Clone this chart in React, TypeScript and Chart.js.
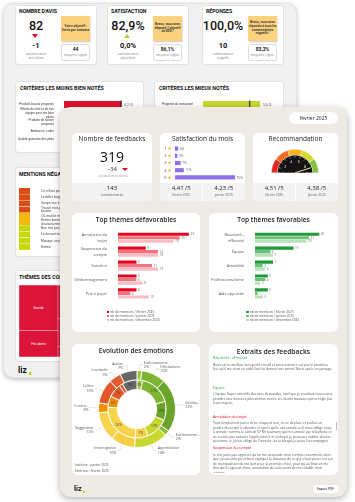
import React, { useEffect, useRef } from "react";
import { Chart, registerables } from "chart.js";
Chart.register(...registerables);

const OPEN = "'Open Sans', 'Noto Sans', sans-serif";
const ROBOTO = "Roboto, 'Liberation Sans', sans-serif";
const ARIAL = "'Liberation Sans', Arial, sans-serif";
Chart.defaults.font.family = OPEN;

// ---------------- data ----------------
const starLabels = ["1", "2", "3", "4", "5"];
const starShares = [4, 3, 7, 11, 75];

const recoBandLabels = ["0-2", "2-4", "4-6", "6-8", "8-10"];
const recoBands = [2, 2, 2, 2, 2];
const recoTicks = [0, 2, 4, 6, 8, 10];
const recoScore = 4.51;

const periods = ["février 2025", "janvier 2025"];
const satisfactionScores = ["4,41 /5", "4,23 /5"];
const recoScores = ["4,51 /5", "4,38 /5"];

const monthLegend = [
  "nb de mentions / février 2025",
  "nb de mentions / janvier 2025",
  "nb de mentions / décembre 2024",
];
const negThemes = [["Annulation du", "trajet"], ["Suspension du", "compte"], "Sanction", "Dédommagement", "Prix à payer"];
const negFeb = [23, 9, 6, 6, 6];
const negJan = [20, 13, 11, 6, 4];
const negDec = [18, 13, 13, 8, 10];
const posThemes = [["Réactivité -", "efficacité"], "Équipe", "Amabilité", "Professionnalisme", "Aide apportée"];
const posFeb = [25, 15, 7, 5, 5];
const posJan = [21, 6, 3, 4, 1];
const posDec = [20, 7, 4, 2, 3];

const emotionLabels = ["Enthousiasme", "Félicitations", "Gratitu...", "Enchanteme...", "Appréciation", "Interrogation", "Suggestion", "Contra...", "Colère", "Lassitude", "Autres"];
const emotionsFeb = [2, 10, 22, 2, 14, 10, 12, 4, 10, 5, 7];
const emotionsJan = [3, 17, 10, 0, 12, 7, 24, 6, 7, 2, 8];

const worstCriteria = ["Produits locaux proposés", ["Efforts du chef et de son", "équipe pour me faire", "plaisir"], ["Produits de saison", "proposés"], "Ambiance, cadre", "Qualité gustative des plats"];
const worstScores = [4.2, 4.3, 4.4, 4.4, 4.5];
const worstRegion = [4.2, 4.4, 4.3, 4.5, 4.4];
const bestCriteria = ["Propreté du restaurant", "Accueil du personnel", "Rapidité du service", "Qualité des produits", "Rapport qualité/prix"];
const bestScores = [5.0, 4.9, 4.8, 4.8, 4.7];
const bestRegion = [4.1, 4.3, 4.2, 4.4, 4.2];

const negMentions = [
  "Ce n'était pas une bonne expérience",
  "Lentilles baignant dans l'huile",
  "Soupe aux tripes trop salée",
  ["Trouvé trois petits morceaux de", "bouton"],
  "Où était le monarque ?",
  ["Entrée bonne mais manque", "d'assaisonnement"],
  "Bon mai pas assez chaud",
  "Le dessert trop sec",
  "Manque un peu de sel",
  "Entrée",
];
const mentionWeights = [1, 1, 1, 1, 1, 1, 1, 1, 1, 1];
const mentionTone = [3, 3, 3, 3, 2, 2, 1, 1, 1, 1];

const themeColumns = ["Plats", "Accompagnements"];
const themeBottom = [37, 14];
const themeMiddle = [0, 39];
const themeTop = [63, 47];
const themeBottomNames = ["Féculents", "Desserts"];
const themeMiddleNames = ["", "Service"];
const themeTopNames = ["Viande", "Garnitures"];

// ---------------- helpers ----------------
function ChartBox({ x, y, w, h, make }: any) {
  const ref = useRef<HTMLCanvasElement | null>(null);
  useEffect(() => {
    const chart = new Chart(ref.current as HTMLCanvasElement, make());
    return () => chart.destroy();
  }, []);
  return (
    <canvas
      ref={ref}
      width={w}
      height={h}
      style={{ position: "absolute", left: x, top: y, width: w, height: h }}
    />
  );
}

function Txt({ x, y, w = 120, align = "center", size, weight = 400, color = "#222", family = OPEN, lh, children, style }: any) {
  const left = align === "center" ? x - w / 2 : align === "right" ? x - w : x;
  const lineH = lh ?? size * 1.25;
  return (
    <div
      style={{
        position: "absolute",
        left,
        top: y - lineH / 2,
        width: w,
        textAlign: align,
        fontSize: size,
        fontWeight: weight,
        color,
        fontFamily: family,
        lineHeight: lineH + "px",
        whiteSpace: "pre",
        ...style,
      }}
    >
      {children}
    </div>
  );
}

const box = (x: number, y: number, w: number, h: number, extra: any = {}) => ({
  position: "absolute" as const,
  left: x,
  top: y,
  width: w,
  height: h,
  boxSizing: "border-box" as const,
  ...extra,
});

function Tri({ x, y, up, color, s = 3.5 }: any) {
  return (
    <div
      style={{
        position: "absolute",
        left: x - s,
        top: y - s * 0.6,
        width: 0,
        height: 0,
        borderLeft: `${s}px solid transparent`,
        borderRight: `${s}px solid transparent`,
        ...(up ? { borderBottom: `${s * 1.2}px solid ${color}` } : { borderTop: `${s * 1.2}px solid ${color}` }),
      }}
    />
  );
}

const valueLabels = (opts: any) => ({
  id: "valueLabels",
  afterDatasetsDraw(chart: any) {
    const ctx = chart.ctx;
    ctx.save();
    ctx.font = `${opts.size}px ${opts.family || OPEN}`;
    ctx.fillStyle = opts.color;
    ctx.textBaseline = "middle";
    ctx.textAlign = "left";
    chart.data.datasets.forEach((ds: any, di: number) => {
      const meta = chart.getDatasetMeta(di);
      meta.data.forEach((el: any, i: number) => {
        ctx.fillText(opts.fmt(ds.data[i]), el.x + opts.dx, el.y + 0.3);
      });
    });
    ctx.restore();
  },
});

// ---------------- chart factories ----------------
function criteriaChart(labels: any, scores: number[], region: number[], color: string, padRight: number) {
  return () => ({
    type: "bar",
    data: {
      labels,
      datasets: [{ data: scores, backgroundColor: color, categoryPercentage: 1, barPercentage: 0.78 }],
    },
    options: {
      indexAxis: "y",
      responsive: false,
      animation: false,
      events: [],
      layout: { padding: { right: padRight, left: 0, top: 0, bottom: 0 } },
      plugins: { legend: { display: false }, tooltip: { enabled: false } },
      scales: {
        x: { display: false, min: 0, max: 5 },
        y: {
          grid: { display: false },
          border: { display: false },
          ticks: { color: "#333", font: { size: 3.1, family: ARIAL, lineHeight: 1.35 }, padding: 2, autoSkip: false },
          afterFit: (s: any) => {
            s.width = 49;
          },
        },
      },
    },
    plugins: [
      {
        id: "regionMarker",
        afterDatasetsDraw(chart: any) {
          const ctx = chart.ctx;
          const meta = chart.getDatasetMeta(0);
          const xs = chart.scales.x;
          ctx.save();
          ctx.strokeStyle = "#111";
          ctx.lineWidth = 1;
          meta.data.forEach((el: any, i: number) => {
            const px = xs.getPixelForValue(region[i]);
            ctx.beginPath();
            ctx.moveTo(px, el.y - el.height / 2 - 0.5);
            ctx.lineTo(px, el.y + el.height / 2 + 0.5);
            ctx.stroke();
          });
          ctx.restore();
        },
      },
      valueLabels({ size: 3.4, color: "#555", dx: 3, family: ARIAL, fmt: (v: number) => v.toFixed(1).replace(".", ",") + " /5" }),
    ],
  });
}

function themeChart(labels: any, series: number[][], colors: string[], max: number, padRight: number) {
  return () => ({
    type: "bar",
    data: {
      labels,
      datasets: series.map((d, i) => ({
        label: monthLegend[i],
        data: d,
        backgroundColor: colors[i],
        categoryPercentage: 0.76,
        barPercentage: 0.9,
      })),
    },
    options: {
      indexAxis: "y",
      responsive: false,
      animation: false,
      events: [],
      layout: { padding: { right: padRight, left: 0, top: 0, bottom: 0 } },
      plugins: { legend: { display: false }, tooltip: { enabled: false } },
      scales: {
        x: { display: false, min: 0, max },
        y: {
          grid: { display: false },
          border: { display: false },
          ticks: { color: "#555", font: { size: 3.85, family: OPEN, lineHeight: 1.45 }, padding: 3, autoSkip: false },
          afterFit: (s: any) => {
            s.width = 46;
          },
        },
      },
    },
    plugins: [valueLabels({ size: 3.1, color: "#666", dx: 1.5, fmt: (v: number) => String(v) })],
  });
}

const starChart = () => ({
  type: "bar",
  data: {
    labels: starLabels,
    datasets: [{ data: starShares, backgroundColor: "#8e70ec", categoryPercentage: 1, barPercentage: 0.58 }],
  },
  options: {
    indexAxis: "y",
    responsive: false,
    animation: false,
    events: [],
    layout: { padding: { left: 15, right: 10, top: 0, bottom: 0 } },
    plugins: { legend: { display: false }, tooltip: { enabled: false } },
    scales: { x: { display: false, min: 0, max: 75 }, y: { display: false } },
  },
  plugins: [
    {
      id: "stars",
      afterDatasetsDraw(chart: any) {
        const ctx = chart.ctx;
        const meta = chart.getDatasetMeta(0);
        ctx.save();
        ctx.textBaseline = "middle";
        meta.data.forEach((el: any, i: number) => {
          ctx.font = `4px ${OPEN}`;
          ctx.fillStyle = "#444";
          ctx.textAlign = "right";
          ctx.fillText(chart.data.labels[i], chart.chartArea.left - 8.5, el.y + 0.3);
          ctx.font = `4.6px 'DejaVu Sans'`;
          ctx.fillStyle = "#f4b400";
          ctx.textAlign = "left";
          ctx.fillText("★", chart.chartArea.left - 7.5, el.y + 0.2);
        });
        ctx.restore();
      },
    },
    valueLabels({ size: 3.2, color: "#555", dx: 1.5, fmt: (v: number) => v + "%" }),
  ],
});

const gaugeChart = () => ({
  type: "doughnut",
  data: {
    labels: recoBandLabels,
    datasets: [
      {
        data: recoBands,
        backgroundColor: ["#e2261d", "#f06a22", "#f9b41c", "#d5d82b", "#86c23f"],
        borderColor: "#fff",
        borderWidth: 0.4,
        weight: 1,
      },
      { data: [10], backgroundColor: ["#141414"], borderWidth: 0, weight: 3 },
    ],
  },
  options: {
    responsive: false,
    animation: false,
    events: [],
    rotation: -90,
    circumference: 180,
    cutout: 0,
    layout: { padding: { left: 4, right: 4, top: 4, bottom: 0 } },
    plugins: { legend: { display: false }, tooltip: { enabled: false } },
  },
  plugins: [
    {
      id: "dial",
      afterDatasetsDraw(chart: any) {
        const ctx = chart.ctx;
        const el: any = chart.getDatasetMeta(1).data[0];
        const cx = el.x, cy = el.y, r = el.outerRadius;
        ctx.save();
        ctx.strokeStyle = "#fff";
        ctx.lineWidth = 0.5;
        for (let v = 0; v <= 10; v++) {
          const a = Math.PI + (v / 10) * Math.PI;
          ctx.beginPath();
          ctx.moveTo(cx + Math.cos(a) * (r - 2.5), cy + Math.sin(a) * (r - 2.5));
          ctx.lineTo(cx + Math.cos(a) * (r - 0.8), cy + Math.sin(a) * (r - 0.8));
          ctx.stroke();
        }
        ctx.fillStyle = "#fff";
        ctx.font = `3.4px ${OPEN}`;
        ctx.textAlign = "center";
        ctx.textBaseline = "middle";
        recoTicks.forEach((v) => {
          const a = Math.PI + (v / 10) * Math.PI;
          ctx.fillText(String(v), cx + Math.cos(a) * (r - 5.5), cy + Math.sin(a) * (r - 5.5) + 1);
        });
        const na = Math.PI + (recoScore / 5) * Math.PI;
        ctx.strokeStyle = "#f1e39a";
        ctx.lineWidth = 1;
        ctx.beginPath();
        ctx.moveTo(cx, cy);
        ctx.lineTo(cx + Math.cos(na) * (r - 2), cy + Math.sin(na) * (r - 2));
        ctx.stroke();
        ctx.restore();
      },
    },
  ],
});

const emotionColors = ["#93c83e", "#7db530", "#6aa428", "#86bd36", "#c9d731", "#f4cf45", "#f6d54c", "#f29100", "#e2582c", "#df5b33", "#676767"];

const emotionChart = () => ({
  type: "doughnut",
  data: {
    labels: emotionLabels,
    datasets: [
      { label: "février 2025", data: emotionsFeb, backgroundColor: emotionColors, borderColor: "#fff", borderWidth: 0.9 },
      { label: "janvier 2025", data: emotionsJan, backgroundColor: emotionColors, borderColor: "#fff", borderWidth: 0.9 },
    ],
  },
  options: {
    responsive: false,
    animation: false,
    events: [],
    cutout: "51%",
    layout: { padding: { left: 26, right: 24, top: 12, bottom: 14 } },
    plugins: { legend: { display: false }, tooltip: { enabled: false } },
  },
  plugins: [
    {
      id: "callouts",
      afterDatasetsDraw(chart: any) {
        const ctx = chart.ctx;
        ctx.save();
        const outer = chart.getDatasetMeta(0);
        outer.data.forEach((el: any, i: number) => {
          const v = chart.data.datasets[0].data[i];
          if (!v) return;
          const a = (el.startAngle + el.endAngle) / 2;
          const c = Math.cos(a), s = Math.sin(a);
          const r = el.outerRadius;
          const x1 = el.x + c * (r + 0.5), y1 = el.y + s * (r + 0.5);
          const x2 = el.x + c * (r + 6), y2 = el.y + s * (r + 6);
          const right = c >= 0;
          const x3 = x2 + (right ? 3 : -3);
          ctx.strokeStyle = "#bdbdbd";
          ctx.lineWidth = 0.4;
          ctx.beginPath();
          ctx.moveTo(x1, y1);
          ctx.lineTo(x2, y2);
          ctx.lineTo(x3, y2);
          ctx.stroke();
          ctx.fillStyle = "#555";
          ctx.font = `3.6px ${OPEN}`;
          ctx.textAlign = right ? "left" : "right";
          ctx.textBaseline = "middle";
          const tx = x3 + (right ? 1 : -1);
          ctx.fillText(chart.data.labels[i], tx, y2 - 2);
          ctx.fillText(v + "%", tx, y2 + 2.3);
        });
        const inner = chart.getDatasetMeta(1);
        ctx.fillStyle = "#3a3a3a";
        ctx.font = `3.2px ${OPEN}`;
        ctx.textAlign = "center";
        ctx.textBaseline = "middle";
        inner.data.forEach((el: any, i: number) => {
          const v = chart.data.datasets[1].data[i];
          if (v < 3) return;
          const a = (el.startAngle + el.endAngle) / 2;
          const rm = (el.innerRadius + el.outerRadius) / 2;
          ctx.fillText(v + "%", el.x + Math.cos(a) * rm, el.y + Math.sin(a) * rm);
        });
        ctx.restore();
      },
    },
  ],
});

const toneColors: any = { 3: "#d94c14", 2: "#f2b80f", 1: "#c6d80b" };

const mentionsChart = () => ({
  type: "bar",
  data: {
    labels: negMentions,
    datasets: [
      {
        data: mentionWeights,
        backgroundColor: mentionTone.map((t) => toneColors[t]),
        borderColor: "#fff",
        borderWidth: { top: 0.4, bottom: 0.4, left: 0, right: 0 },
        borderSkipped: false,
        categoryPercentage: 1,
        barPercentage: 1,
      },
    ],
  },
  options: {
    indexAxis: "y",
    responsive: false,
    animation: false,
    events: [],
    layout: { padding: { left: 4, right: 0, top: 0, bottom: 0 } },
    plugins: { legend: { display: false }, tooltip: { enabled: false } },
    scales: {
      x: { display: false, min: 0, max: 1 },
      y: {
        position: "right",
        grid: { display: false },
        border: { display: false },
        ticks: { color: "#444", font: { size: 3.3, family: ARIAL, lineHeight: 1.15 }, padding: 3, autoSkip: false },
        afterFit: (s: any) => {
          s.width = 85;
        },
      },
    },
  },
});

const themesChart = () => ({
  type: "bar",
  data: {
    labels: themeColumns,
    datasets: [
      { data: themeBottom, names: themeBottomNames },
      { data: themeMiddle, names: themeMiddleNames },
      { data: themeTop, names: themeTopNames },
    ].map((d) => ({
      ...d,
      backgroundColor: "#dc1439",
      borderColor: "#fff",
      borderWidth: 0.5,
      borderSkipped: false,
      categoryPercentage: 1,
      barPercentage: 1,
    })),
  },
  options: {
    responsive: false,
    animation: false,
    events: [],
    plugins: { legend: { display: false }, tooltip: { enabled: false } },
    scales: {
      x: { display: false, stacked: true },
      y: { display: false, stacked: true, min: 0, max: 100 },
    },
  },
  plugins: [
    {
      id: "cellNames",
      afterDatasetsDraw(chart: any) {
        const ctx = chart.ctx;
        ctx.save();
        ctx.fillStyle = "#fff";
        ctx.font = `3.4px ${ARIAL}`;
        ctx.textAlign = "center";
        ctx.textBaseline = "middle";
        chart.data.datasets.forEach((ds: any, di: number) => {
          chart.getDatasetMeta(di).data.forEach((el: any, i: number) => {
            if (!ds.data[i]) return;
            ctx.fillText(ds.names[i], el.x, (el.y + el.base) / 2);
          });
        });
        ctx.restore();
      },
    },
  ],
});

// ---------------- components ----------------
function BackKpi({ x, title, big, trend, delta, sub, note, boxValue, boxSub }: any) {
  return (
    <>
      <div style={box(x, 5, 82, 60, { background: "#fff", border: "1px solid #e2e2e2", borderRadius: 3 })} />
      <Txt x={x + 4} y={11} align="left" size={5.2} weight={700} family={ROBOTO} color="#111">{title}</Txt>
      <Txt x={x + 21} y={25.5} size={12.5} weight={500} family={ROBOTO} color="#111">{big}</Txt>
      {trend ? <Tri x={x + 21} y={36} up={trend === "up"} color={trend === "up" ? "#b8cf35" : "#e0102f"} s={3.6} /> : null}
      <Txt x={x + 21} y={46} size={7.5} weight={700} family={ROBOTO} color="#111">{delta}</Txt>
      <Txt x={x + 21} y={54} size={3.1} color="#777" lh={4.6}>{sub}</Txt>
      <div
        style={box(x + 46, 16, 29, 25, {
          background: "#fdd27e",
          boxShadow: "0.5px 1px 1.5px rgba(0,0,0,0.25)",
          display: "flex",
          alignItems: "center",
          justifyContent: "center",
        })}
      >
        <div style={{ fontSize: 3, lineHeight: "3.8px", fontWeight: 700, color: "#333", textAlign: "center", fontFamily: OPEN, whiteSpace: "pre" }}>{note}</div>
      </div>
      <div style={box(x + 46, 44, 29, 17, { border: "0.8px solid #ddd", borderRadius: 2, background: "#fff" })} />
      <Txt x={x + 60.5} y={49.5} size={5} weight={700} family={ROBOTO} color="#222">{boxValue}</Txt>
      <Txt x={x + 60.5} y={56} size={3} color="#777">{boxSub}</Txt>
    </>
  );
}

function Legend({ x, y, colors }: any) {
  return (
    <>
      {monthLegend.map((l, i) => (
        <React.Fragment key={i}>
          <div style={box(x, y + i * 4 - 1.3, 2.6, 2.6, { background: colors[i] })} />
          <Txt x={x + 3.8} y={y + i * 4} align="left" size={3.2} color="#555">{l}</Txt>
        </React.Fragment>
      ))}
    </>
  );
}

function KpiFooter({ x, w, values }: any) {
  const half = w / 2;
  return (
    <>
      {values.map((v: string, i: number) => (
        <React.Fragment key={i}>
          <div style={box(x + i * (half + 0.5), 183, half - 0.5, 18, { background: "#f3f3f3", borderRadius: i === 0 ? "0 0 0 5px" : "0 0 5px 0" })} />
          <Txt x={x + half / 2 + i * half} y={188.5} size={6} weight={500} color="#222">{v}</Txt>
          <Txt x={x + half / 2 + i * half} y={195} size={3.2} color="#666">{periods[i]}</Txt>
        </React.Fragment>
      ))}
    </>
  );
}

const para = { fontSize: 3.35, lineHeight: "4.6px", color: "#555", fontFamily: OPEN };

export default function App() {
  return (
    <div style={{ position: "fixed", left: 0, top: 0, width: 355, height: 502, overflow: "hidden", background: "#fff" }}>
      {/* ---------- back dashboard ---------- */}
      <div style={box(3, 3, 294, 375, { background: "#f1f1f1", borderRadius: 10, border: "1px solid #e2e2e2", boxShadow: "0 1.5px 4px rgba(0,0,0,0.22)" })} />
      <BackKpi x={15} title="NOMBRE D'AVIS" big="82" trend="down" delta="-1" sub={"variation mois\nprécédent"} note={"Votre objectif :\n0 avis par semaine"} boxValue="44" boxSub="moyenne région" />
      <BackKpi x={107} title="SATISFACTION" big="82,9%" trend="up" delta="0,0%" sub={"variation mois\nprécédent"} note={"Bravo, vous avez\ndépassé l'objectif\nde 80% !"} boxValue="86,1%" boxSub="moyenne région" />
      <BackKpi x={202} title="RÉPONSES" big="100,0%" trend={null} delta="10" sub={"commentaires\nnégatifs"} note={"Bravo, vous avez\nrépondu à tous les\ncommentaires\nnégatifs !"} boxValue="83,3%" boxSub="moyenne région" />

      <div style={box(15, 81, 129, 72, { background: "#fff", border: "1px solid #e2e2e2", borderRadius: 3 })} />
      <Txt x={20} y={88} align="left" size={5.3} weight={700} family={ROBOTO} color="#111">CRITÈRES LES MOINS BIEN NOTÉS</Txt>
      <ChartBox x={15} y={96} w={129} h={52} make={criteriaChart(worstCriteria, worstScores, worstRegion, "#e3102f", 12)} />

      <div style={box(154, 81, 130, 72, { background: "#fff", border: "1px solid #e2e2e2", borderRadius: 3 })} />
      <Txt x={159} y={88} align="left" size={5.3} weight={700} family={ROBOTO} color="#111">CRITÈRES LES MIEUX NOTÉS</Txt>
      <ChartBox x={154} y={96} w={130} h={52} make={criteriaChart(bestCriteria, bestScores, bestRegion, "#c9d82f", 24)} />

      <div style={box(15, 167, 129, 90, { background: "#fff", border: "1px solid #e2e2e2", borderRadius: 3 })} />
      <Txt x={19} y={174} align="left" size={5.3} weight={700} family={ROBOTO} color="#111">MENTIONS NÉGATIVES</Txt>
      <ChartBox x={15} y={183} w={100} h={72} make={mentionsChart} />

      <div style={box(15, 270, 129, 92, { background: "#fff", border: "1px solid #e2e2e2", borderRadius: 3 })} />
      <Txt x={19} y={277.5} align="left" size={5.3} weight={700} family={ROBOTO} color="#111">THÈMES DES COMMENTAIRES</Txt>
      <ChartBox x={19} y={285} w={78} h={72} make={themesChart} />

      <Txt x={18} y={370} align="left" size={8.5} weight={700} family={ROBOTO} color="#111">liz</Txt>
      <div style={box(28.5, 372, 2.5, 2.5, { background: "#c8d400" })} />

      {/* ---------- front dashboard ---------- */}
      <div style={box(60, 107, 287, 390, { background: "#eeeae5", borderRadius: 11, boxShadow: "0 2px 7px rgba(0,0,0,0.3)" })} />
      <div style={box(289, 112, 49, 12, { background: "#fff", borderRadius: 6 })} />
      <Txt x={313.5} y={118} size={5} weight={500} color="#222">février 2025</Txt>

      {/* KPI row */}
      <div style={box(72, 133, 80, 68, { background: "#fff", borderRadius: 5 })} />
      <Txt x={112} y={139.5} size={6.5} weight={500} color="#222">Nombre de feedbacks</Txt>
      <Txt x={112} y={157} size={14} weight={400} color="#111">319</Txt>
      <Txt x={112.5} y={169.5} size={6} weight={400} color="#333">-34</Txt>
      <Tri x={125.5} y={169.5} up={false} color="#e3001b" s={3.3} />
      <Txt x={113.5} y={176.5} size={2.9} color="#999">évolution mois dernier</Txt>
      <div style={box(72, 183, 80, 18, { background: "#f3f3f3", borderRadius: "0 0 5px 5px" })} />
      <Txt x={112} y={188.5} size={6} weight={500} color="#222">143</Txt>
      <Txt x={112} y={195} size={3.3} color="#555">commentaires</Txt>

      <div style={box(160, 133, 85, 68, { background: "#fff", borderRadius: 5 })} />
      <Txt x={202.5} y={139.5} size={6.5} weight={500} color="#222">Satisfaction du mois</Txt>
      <ChartBox x={160} y={144.5} w={85} h={36} make={starChart} />
      <KpiFooter x={160} w={85} values={satisfactionScores} />

      <div style={box(253, 133, 85, 68, { background: "#fff", borderRadius: 5 })} />
      <Txt x={295.5} y={139.5} size={6.5} weight={500} color="#222">Recommandation</Txt>
      <ChartBox x={267} y={145} w={56} h={28} make={gaugeChart} />
      <KpiFooter x={253} w={85} values={recoScores} />

      {/* themes row */}
      <div style={box(72, 213, 128, 119, { background: "#fff", borderRadius: 6 })} />
      <Txt x={136} y={220.5} size={6.6} weight={600} color="#222">Top thèmes défavorables</Txt>
      <ChartBox x={72} y={225} w={128} h={84} make={themeChart(negThemes, [negFeb, negJan, negDec], ["#e4051c", "#f0737f", "#f7bcc2"], 24, 8)} />
      <Legend x={106.5} y={312} colors={["#e4051c", "#f0737f", "#f7bcc2"]} />

      <div style={box(209, 213, 129, 119, { background: "#fff", borderRadius: 6 })} />
      <Txt x={273.5} y={220.5} size={6.6} weight={600} color="#222">Top thèmes favorables</Txt>
      <ChartBox x={209} y={225} w={129} h={84} make={themeChart(posThemes, [posFeb, posJan, posDec], ["#1f9a3b", "#6dc277", "#b8e1bc"], 28, 11)} />
      <Legend x={246} y={312} colors={["#1f9a3b", "#6dc277", "#b8e1bc"]} />

      {/* emotions */}
      <div style={box(72, 344, 128, 131, { background: "#fff", borderRadius: 6 })} />
      <Txt x={136} y={351.5} size={6.6} weight={600} color="#222">Evolution des émotions</Txt>
      <ChartBox x={72} y={358} w={128} h={104} make={emotionChart} />
      <Txt x={75} y={464.5} align="left" size={3.2} color="#555">Intérieur : janvier 2025</Txt>
      <Txt x={75} y={470.5} align="left" size={3.2} color="#555">Extérieur : février 2025</Txt>

      {/* extracts */}
      <div style={box(209, 344, 129, 131, { background: "#fff", borderRadius: 6 })} />
      <Txt x={273.5} y={352} size={6.8} weight={600} color="#222">Extraits des feedbacks</Txt>
      <Txt x={213} y={358.5} align="left" size={3.6} color="#3aa45a">Réactivité - efficacité</Txt>
      <div style={box(213, 362.5, 121, 14, { ...para, overflow: "hidden" })}>
        Boris est le meilleur très gentil réactif et sincèrement c'est pas la première fois qu'il me vient en aide! faut lui donner une prime! Boris après on partage
      </div>
      <Txt x={213} y={388} align="left" size={3.6} color="#3aa45a">Équipe</Txt>
      <div style={box(213, 392, 121, 15, { ...para, overflow: "hidden" })}>
        L'équipe Super attentifs des mes demandes, sauf que je voudrais vous seriez prendre des mesures plus strictes contre les clients mauvais qui ne règle pas leurs trajets ;
      </div>
      <Txt x={213} y={417} align="left" size={3.6} color="#e3001b">Annulation du trajet</Txt>
      <div style={box(213, 421, 119, 23, { ...para, overflow: "hidden" })}>
        Tout simplement parce ils ne risquent rien, en ce déplace et parfois en perdre du temps à attendre et après qu'ils ont annulé ou il nous oblige nous à annuler comme le samedi 07 Mr toumany qui m'a annulé par téléphone et ne voulais pas annuler l'application il m'a bloqué je peux pas oublier d'autre personne et j'avais obligé de l'annuler. ka ta bloqué je peux l'accompagner et m'a donné un avis 1 étoiles ça veux dire quoi
      </div>
      <div style={box(335.5, 421.5, 1.5, 8, { background: "#bbb", borderRadius: 1 })} />
      <Txt x={213} y={448} align="left" size={3.6} color="#e3001b">Suspension du compte</Txt>
      <div style={box(213, 452.5, 121, 20, { ...para, overflow: "hidden" })}>
        Je n'ai juste pas apprécié qu'on me suspende mon compte récemment alors que j'avais anticipé et bien expliqué la situation de ce qui s'était passé (erreur de manipulation de ma part pour la première fois), pour qu'au final on me dise qu'il s'agissait d'une annulation de colis avant de me rétablir mon compte.
      </div>

      {/* footer */}
      <Txt x={74} y={488.5} align="left" size={7.5} weight={700} family={ROBOTO} color="#111">liz</Txt>
      <div style={box(83, 490.5, 2.3, 2.3, { background: "#c8d400" })} />
      <div style={box(313, 485, 25, 8, { background: "#fff", borderRadius: 3 })} />
      <Txt x={325.5} y={489} size={3.2} weight={600} color="#333">Export PDF</Txt>
    </div>
  );
}
